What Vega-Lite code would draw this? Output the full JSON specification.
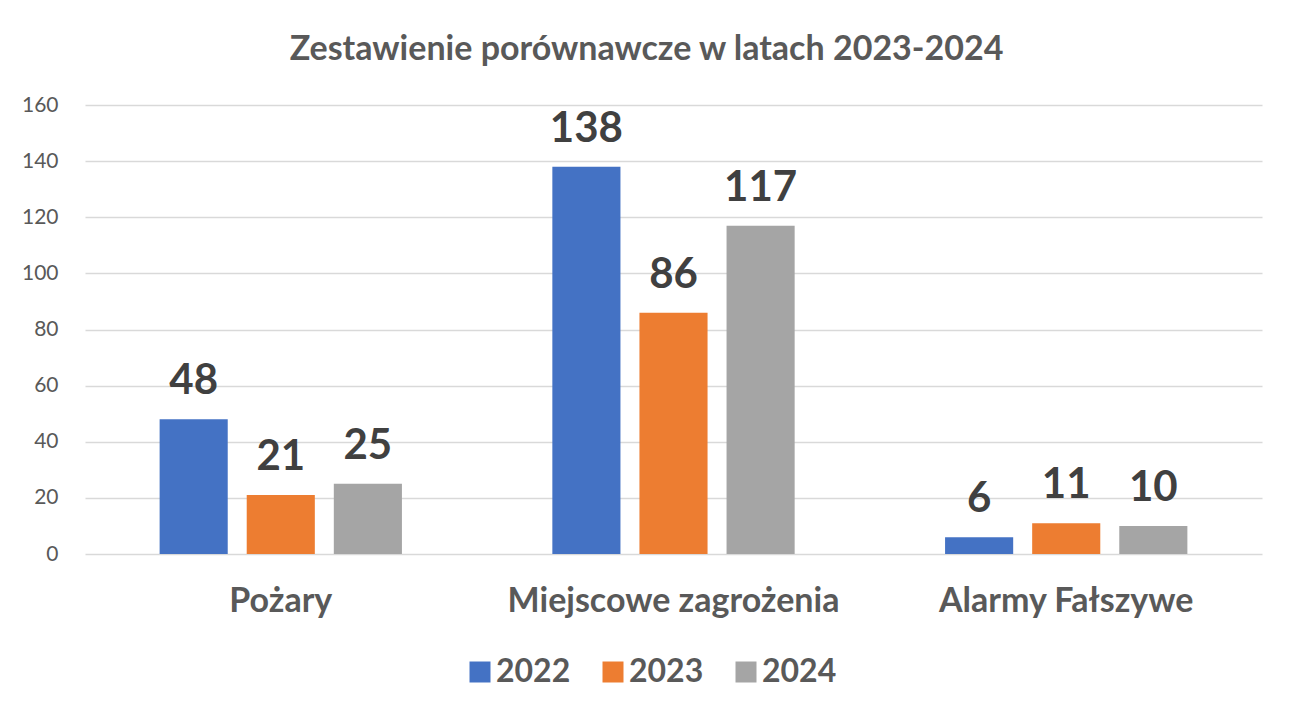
{
  "$schema": "https://vega.github.io/schema/vega-lite/v6.json",
  "width": 1177,
  "height": 449,
  "autosize": {"type": "none"},
  "padding": {"left": 85, "top": 105, "right": 28, "bottom": 159},
  "background": "white",
  "title": {
    "text": "Zestawienie porównawcze w latach 2023-2024",
    "font": "Lato",
    "fontSize": 34,
    "fontWeight": "bold",
    "color": "#595959",
    "anchor": "middle",
    "offset": 27,
    "dx": -27
  },
  "data": {
    "values": [
      {"category": "Pożary", "year": "2022", "value": 48},
      {"category": "Pożary", "year": "2023", "value": 21},
      {"category": "Pożary", "year": "2024", "value": 25},
      {"category": "Miejscowe zagrożenia", "year": "2022", "value": 138},
      {"category": "Miejscowe zagrożenia", "year": "2023", "value": 86},
      {"category": "Miejscowe zagrożenia", "year": "2024", "value": 117},
      {"category": "Alarmy Fałszywe", "year": "2022", "value": 6},
      {"category": "Alarmy Fałszywe", "year": "2023", "value": 11},
      {"category": "Alarmy Fałszywe", "year": "2024", "value": 10}
    ]
  },
  "encoding": {
    "x": {
      "field": "category",
      "type": "nominal",
      "sort": ["Pożary", "Miejscowe zagrożenia", "Alarmy Fałszywe"],
      "scale": {"paddingInner": 0.383, "paddingOuter": 0.19},
      "axis": {
        "title": null,
        "labelAngle": 0,
        "ticks": false,
        "domain": false,
        "labelFont": "Lato",
        "labelFontSize": 34,
        "labelFontWeight": "bold",
        "labelColor": "#595959",
        "labelPadding": 30,
        "labelLimit": 0
      }
    },
    "xOffset": {
      "field": "year",
      "type": "nominal",
      "scale": {"paddingInner": 0.218, "paddingOuter": 0}
    },
    "y": {
      "field": "value",
      "type": "quantitative",
      "scale": {"domain": [0, 160], "nice": false},
      "axis": {
        "title": null,
        "values": [0, 20, 40, 60, 80, 100, 120, 140, 160],
        "domain": false,
        "ticks": false,
        "grid": true,
        "gridColor": "#D9D9D9",
        "gridWidth": 1.5,
        "labelFont": "Lato",
        "labelFontSize": 21,
        "labelColor": "#595959",
        "labelPadding": 27
      }
    }
  },
  "layer": [
    {
      "mark": {"type": "bar"},
      "encoding": {
        "color": {
          "field": "year",
          "type": "nominal",
          "scale": {"domain": ["2022", "2023", "2024"], "range": ["#4472C4", "#ED7D31", "#A5A5A5"]},
          "legend": {
            "title": null,
            "orient": "none",
            "direction": "horizontal",
            "legendX": 379,
            "legendY": 551,
            "symbolType": "square",
            "symbolSize": 441,
            "symbolStrokeWidth": 0,
            "symbolOpacity": 1,
            "labelFont": "Lato",
            "labelFontSize": 32,
            "labelFontWeight": "bold",
            "labelColor": "#595959",
            "labelOffset": 0,
            "columnPadding": 26
          }
        }
      }
    },
    {
      "mark": {
        "type": "text",
        "font": "Lato",
        "fontSize": 42,
        "fontWeight": "bold",
        "color": "#404040",
        "baseline": "alphabetic",
        "dy": -25
      },
      "encoding": {
        "text": {"field": "value", "type": "quantitative"}
      }
    }
  ],
  "config": {"view": {"stroke": null}}
}
